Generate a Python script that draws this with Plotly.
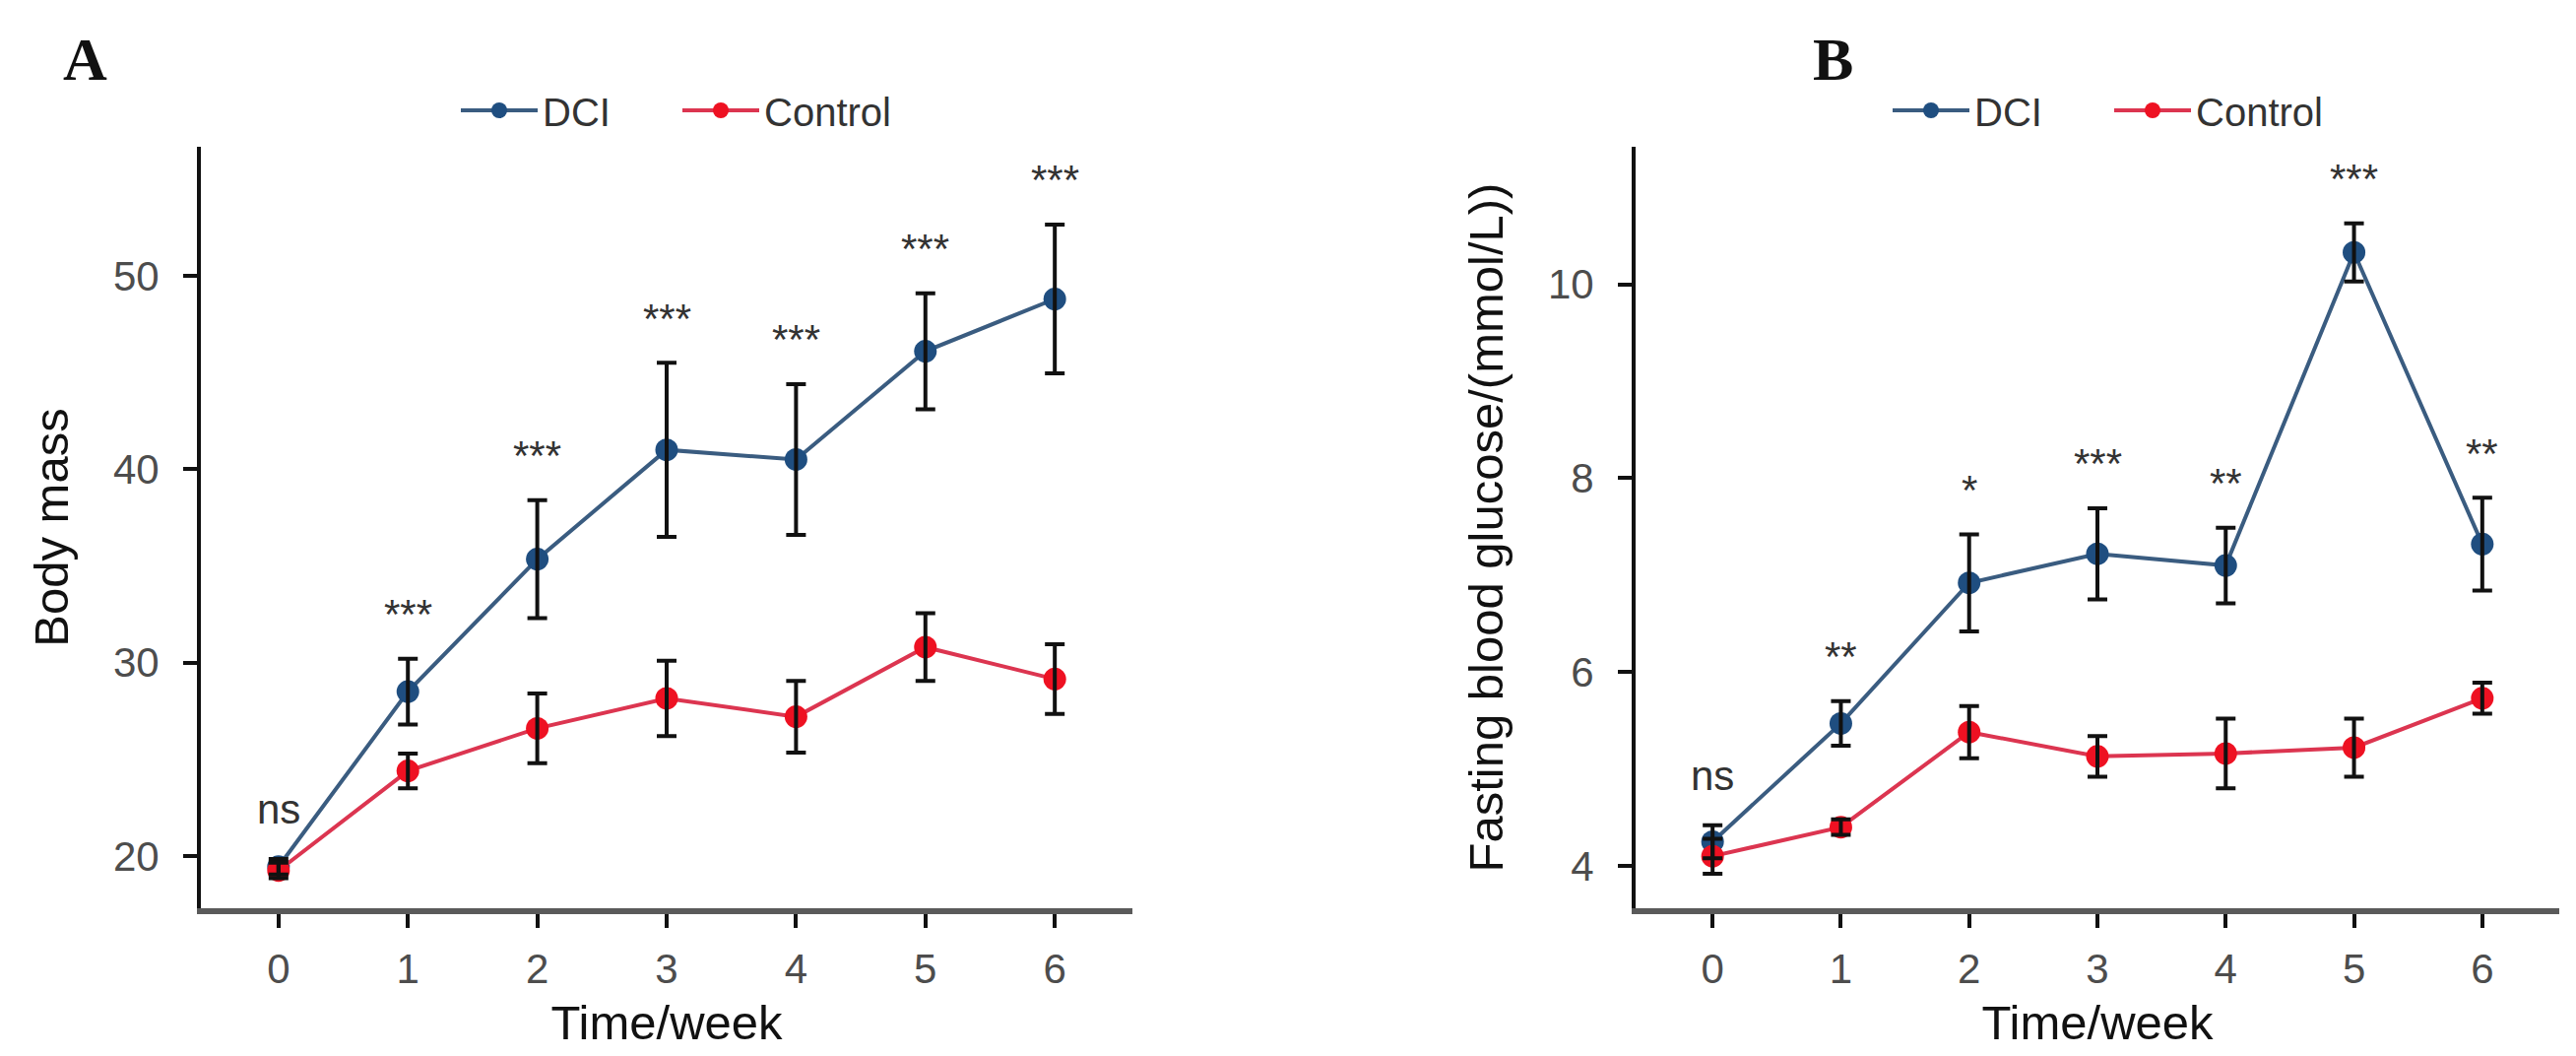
import plotly.graph_objects as go

# ---------------- data ----------------
weeks = [0, 1, 2, 3, 4, 5, 6]
week_labels = ["0", "1", "2", "3", "4", "5", "6"]

mass_dci = [19.45, 28.5, 35.35, 41.0, 40.5, 46.1, 48.8]
mass_dci_sd = [0.4, 1.7, 3.05, 4.5, 3.9, 3.0, 3.85]
mass_ctrl = [19.25, 24.4, 26.6, 28.15, 27.2, 30.8, 29.15]
mass_ctrl_sd = [0.4, 0.9, 1.8, 1.95, 1.85, 1.75, 1.8]
mass_sig = ["ns", "***", "***", "***", "***", "***", "***"]
mass_yticks = [20, 30, 40, 50]

glu_dci = [4.25, 5.47, 6.92, 7.22, 7.1, 10.33, 7.32]
glu_dci_sd = [0.17, 0.23, 0.5, 0.47, 0.39, 0.3, 0.48]
glu_ctrl = [4.1, 4.4, 5.38, 5.13, 5.16, 5.22, 5.73]
glu_ctrl_sd = [0.18, 0.08, 0.27, 0.21, 0.36, 0.3, 0.16]
glu_sig = ["ns", "**", "*", "***", "**", "***", "**"]
glu_yticks = [4, 6, 8, 10]

series_names = ["DCI", "Control"]

# ---------------- style ----------------
W, H = 2616, 1072
C_DCI = "#1f4e80"
C_DCI_LINE = "#3a5c80"
C_CTRL = "#ee1122"
C_CTRL_LINE = "#dc3550"
SANS = "Liberation Sans, Arial, sans-serif"
SERIF = "Liberation Serif, Times New Roman, serif"

fig = go.Figure()

panels = [
    ("x", "y", ("legend", "legend2"), mass_dci, mass_dci_sd, mass_ctrl, mass_ctrl_sd, mass_sig),
    ("x2", "y2", ("legend3", "legend4"), glu_dci, glu_dci_sd, glu_ctrl, glu_ctrl_sd, glu_sig),
]

for xa, ya, lgs, dci, dci_sd, ctrl, ctrl_sd, sig in panels:
    for name, vals, col, lcol, lg in [
        (series_names[0], dci, C_DCI, C_DCI_LINE, lgs[0]),
        (series_names[1], ctrl, C_CTRL, C_CTRL_LINE, lgs[1]),
    ]:
        fig.add_trace(go.Scatter(
            x=weeks, y=vals, name=name, mode="lines+markers",
            line=dict(color=lcol, width=4),
            marker=dict(color=col, size=23, symbol="circle"),
            xaxis=xa, yaxis=ya, legend=lg, showlegend=True,
        ))
    for vals, sd in [(dci, dci_sd), (ctrl, ctrl_sd)]:
        fig.add_trace(go.Scatter(
            x=weeks, y=vals, mode="markers",
            marker=dict(color="rgba(0,0,0,0)", size=1),
            error_y=dict(type="data", array=sd, visible=True,
                         color="#111111", thickness=4, width=10),
            xaxis=xa, yaxis=ya, showlegend=False, hoverinfo="skip",
        ))
    for wk, v, s, lab in zip(weeks, dci, dci_sd, sig):
        fig.add_annotation(
            x=wk, y=v + s, xref=xa, yref=ya, text=lab, showarrow=False,
            yanchor="middle", yshift=50 if lab == "ns" else 45,
            font=dict(family=SANS, size=42, color="#333333"),
        )

axis_common = dict(
    showgrid=False, zeroline=False, showline=True,
    ticks="outside", ticklen=14, tickwidth=4, tickcolor="#111111",
    tickfont=dict(family=SANS, size=42, color="#4d4d4d"),
    automargin=False,
)

xdom1 = [196 / W, 1142 / W]
xdom2 = [1653 / W, 2591 / W]
ydom = [1 - 914 / H, 1 - 141 / H]

legend_common = dict(
    orientation="h", xanchor="left", y=1 - 104 / H, yanchor="middle",
    font=dict(family=SANS, size=40, color="#333333"), bgcolor="rgba(0,0,0,0)",
    itemwidth=78,
)

fig.update_layout(
    width=W, height=H,
    margin=dict(l=0, r=0, t=0, b=0),
    paper_bgcolor="white", plot_bgcolor="white",
    font=dict(family=SANS, color="#222222"),
    xaxis=dict(domain=xdom1, anchor="y", range=[-0.6, 6.6],
               tickvals=weeks, ticktext=week_labels,
               linecolor="#5a5a5a", linewidth=6,
               title=dict(text="Time/week", font=dict(family=SANS, size=49, color="#111111"), standoff=16),
               ticklabelstandoff=6, **axis_common),
    yaxis=dict(domain=ydom, anchor="x", range=[17.3, 56.67],
               tickvals=mass_yticks,
               linecolor="#111111", linewidth=4,
               title=dict(text="Body mass", font=dict(family=SANS, size=49, color="#111111"), standoff=31),
               ticklabelstandoff=16, **axis_common),
    xaxis2=dict(domain=xdom2, anchor="y2", range=[-0.6, 6.6],
                tickvals=weeks, ticktext=week_labels,
                linecolor="#5a5a5a", linewidth=6,
                title=dict(text="Time/week", font=dict(family=SANS, size=49, color="#111111"), standoff=16),
                ticklabelstandoff=6, **axis_common),
    yaxis2=dict(domain=ydom, anchor="x2", range=[3.563, 11.42],
                tickvals=glu_yticks,
                linecolor="#111111", linewidth=4,
                title=dict(text="Fasting blood glucose/(mmol/L))", font=dict(family=SANS, size=49, color="#111111"), standoff=31),
                ticklabelstandoff=16, **axis_common),
    legend=dict(x=455 / W, **legend_common),
    legend2=dict(x=680 / W, **legend_common),
    legend3=dict(x=1909 / W, **legend_common),
    legend4=dict(x=2134 / W, **legend_common),
    showlegend=True,
)

fig.add_annotation(x=78 / W, y=1 - 52 / H, xref="paper", yref="paper", text="<b>A</b>",
                   showarrow=False, xanchor="center", yanchor="middle",
                   font=dict(family=SERIF, size=62, color="#111111"))
fig.add_annotation(x=1853 / W, y=1 - 52 / H, xref="paper", yref="paper", text="<b>B</b>",
                   showarrow=False, xanchor="center", yanchor="middle",
                   font=dict(family=SERIF, size=62, color="#111111"))

fig.write_html("out.html")
